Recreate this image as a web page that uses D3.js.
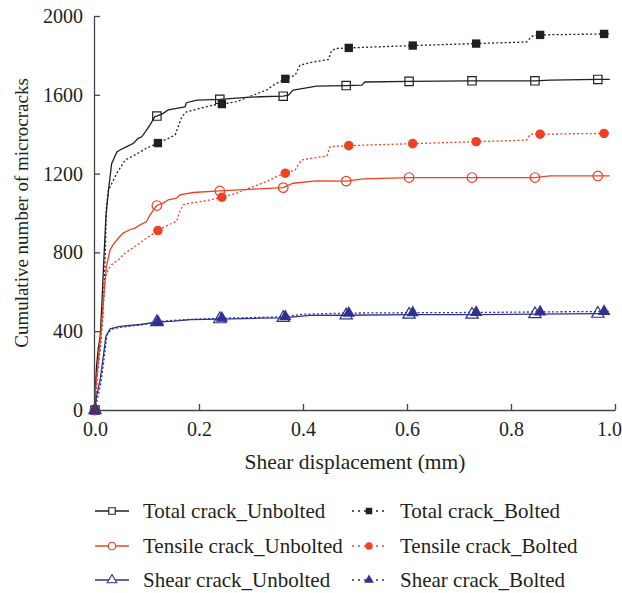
<!DOCTYPE html>
<html>
<head>
<meta charset="utf-8">
<script src="https://cdn.jsdelivr.net/npm/d3@7"></script>
<style>
  body { margin: 0; background: #fff; }
  text { font-family: "Liberation Serif", "DejaVu Serif", serif; fill: #231f20; }
</style>
</head>
<body>
<div id="chart"></div>
<script>
const width = 622;
const height = 593;

// curves: [shear displacement (mm), cumulative count]
const totalUnbolted = [
  [0, 0], [0.0, 71], [0.003, 223], [0.006, 307], [0.010, 375], [0.013, 527], [0.017, 763],
  [0.021, 982], [0.026, 1117], [0.032, 1250], [0.042, 1310], [0.048, 1320], [0.061, 1337],
  [0.074, 1354], [0.083, 1379], [0.090, 1387], [0.099, 1421], [0.106, 1447], [0.115, 1489],
  [0.119, 1492], [0.131, 1506], [0.141, 1523], [0.157, 1531], [0.173, 1539], [0.176, 1560],
  [0.196, 1573], [0.240, 1577], [0.292, 1587], [0.317, 1590], [0.362, 1593], [0.372, 1598],
  [0.381, 1624], [0.401, 1633], [0.426, 1644], [0.483, 1647], [0.513, 1649], [0.519, 1665],
  [0.604, 1668], [0.725, 1671], [0.846, 1671], [0.875, 1675], [0.967, 1678], [0.99, 1678]
];
const totalBolted = [
  [0, 0], [0.003, 172], [0.010, 307], [0.015, 476], [0.019, 729], [0.022, 1033],
  [0.026, 1117], [0.042, 1202], [0.058, 1269], [0.077, 1295], [0.099, 1329], [0.121, 1355],
  [0.141, 1379], [0.154, 1396], [0.160, 1438], [0.167, 1489], [0.176, 1514], [0.202, 1531],
  [0.228, 1548], [0.244, 1553], [0.272, 1565], [0.304, 1598], [0.330, 1624], [0.343, 1649],
  [0.366, 1681], [0.385, 1700], [0.394, 1750], [0.420, 1767], [0.449, 1779], [0.455, 1826],
  [0.465, 1835], [0.488, 1838], [0.611, 1850], [0.733, 1860], [0.830, 1868], [0.840, 1897],
  [0.856, 1904], [0.979, 1909], [0.99, 1909]
];
const tensileUnbolted = [
  [0, 0], [0.0, 71], [0.006, 240], [0.013, 443], [0.019, 645], [0.022, 729], [0.029, 813],
  [0.035, 839], [0.045, 873], [0.054, 898], [0.067, 915], [0.077, 923], [0.087, 940],
  [0.099, 957], [0.106, 991], [0.115, 1025], [0.119, 1038], [0.131, 1050], [0.141, 1067],
  [0.157, 1075], [0.163, 1092], [0.189, 1104], [0.240, 1112], [0.304, 1121], [0.362, 1129],
  [0.381, 1151], [0.426, 1163], [0.483, 1162], [0.516, 1173], [0.604, 1180], [0.725, 1180],
  [0.846, 1180], [0.875, 1188], [0.967, 1188], [0.99, 1188]
];
const tensileBolted = [
  [0, 0], [0.006, 223], [0.013, 425], [0.019, 645], [0.022, 696], [0.032, 738], [0.045, 763],
  [0.058, 797], [0.077, 830], [0.099, 873], [0.121, 911], [0.141, 940], [0.157, 957],
  [0.163, 1008], [0.170, 1042], [0.183, 1050], [0.215, 1063], [0.244, 1080], [0.272, 1100],
  [0.304, 1134], [0.330, 1160], [0.350, 1185], [0.366, 1202], [0.385, 1219], [0.397, 1269],
  [0.446, 1290], [0.452, 1337], [0.488, 1342], [0.611, 1352], [0.733, 1362], [0.830, 1370],
  [0.837, 1400], [0.856, 1400], [0.979, 1404], [0.99, 1404]
];
const shearUnbolted = [
  [0, 0], [0.003, 71], [0.010, 155], [0.016, 273], [0.021, 375], [0.029, 412], [0.048, 425],
  [0.087, 434], [0.119, 446], [0.151, 451], [0.183, 459], [0.240, 461], [0.317, 466],
  [0.362, 468], [0.413, 480], [0.483, 481], [0.604, 484], [0.725, 484], [0.846, 487],
  [0.967, 489], [0.99, 489]
];
const shearBolted = [
  [0, 0], [0.004, 50], [0.011, 130], [0.017, 250], [0.023, 380], [0.031, 410], [0.050, 420],
  [0.090, 432], [0.121, 448], [0.150, 455], [0.200, 462], [0.244, 466], [0.300, 469],
  [0.366, 474], [0.400, 486], [0.488, 492], [0.611, 494], [0.733, 495], [0.856, 498],
  [0.979, 500], [0.99, 500]
];

// marker positions along x
const markerXUnbolted = [0, 0.119, 0.240, 0.362, 0.483, 0.604, 0.725, 0.846, 0.967];
const markerXBolted = [0, 0.121, 0.244, 0.366, 0.488, 0.611, 0.733, 0.856, 0.979];

const xTicks = [0, 0.2, 0.4, 0.6, 0.8, 1.0];
const yTicks = [0, 400, 800, 1200, 1600, 2000];

const seriesNames = [
  "Total crack_Unbolted", "Total crack_Bolted",
  "Tensile crack_Unbolted", "Tensile crack_Bolted",
  "Shear crack_Unbolted", "Shear crack_Bolted"
];

const black = "#231f20", red = "#ef4123", blue = "#2e3192";

const series = [
  { name: seriesNames[0], data: totalUnbolted, mx: markerXUnbolted, color: black, dotted: false, shape: "square", filled: false },
  { name: seriesNames[1], data: totalBolted, mx: markerXBolted, color: black, dotted: true, shape: "square", filled: true },
  { name: seriesNames[2], data: tensileUnbolted, mx: markerXUnbolted, color: red, dotted: false, shape: "circle", filled: false },
  { name: seriesNames[3], data: tensileBolted, mx: markerXBolted, color: red, dotted: true, shape: "circle", filled: true },
  { name: seriesNames[4], data: shearUnbolted, mx: markerXUnbolted, color: blue, dotted: false, shape: "triangle", filled: false },
  { name: seriesNames[5], data: shearBolted, mx: markerXBolted, color: blue, dotted: true, shape: "triangle", filled: true }
];

const margin = { left: 94, right: 7, top: 16, bottom: 183 };

const x = d3.scaleLinear().domain([0, 1]).range([margin.left + 1, width - margin.right]);
const y = d3.scaleLinear().domain([0, 2000]).range([height - margin.bottom, margin.top]);

const svg = d3.select("#chart")
  .append("svg")
  .attr("width", width)
  .attr("height", height);

const line = d3.line()
  .x(d => x(d[0]))
  .y(d => y(d[1]));

const symbolFor = {
  square: d3.symbolSquare,
  circle: d3.symbolCircle,
  triangle: d3.symbolTriangle
};
const sizeFor = { square: 70, circle: 72, triangle: 66 };

// value of a series at given x, via linear lookup in its points
function valueAt(data, xv) {
  const i = d3.bisector(d => d[0]).left(data, xv);
  if (i <= 0) return data[0][1];
  if (i >= data.length) return data[data.length - 1][1];
  const a = data[i - 1], b = data[i];
  if (b[0] === a[0]) return b[1];
  return a[1] + (b[1] - a[1]) * (xv - a[0]) / (b[0] - a[0]);
}

// curves
series.forEach(s => {
  svg.append("path")
    .datum(s.data)
    .attr("fill", "none")
    .attr("stroke", s.color)
    .attr("stroke-width", 1.3)
    .attr("stroke-dasharray", s.dotted ? "2,2.2" : null)
    .attr("d", line);
});

// markers
series.forEach(s => {
  svg.selectAll(null)
    .data(s.mx)
    .enter()
    .append("path")
    .attr("transform", d => `translate(${x(d)},${y(valueAt(s.data, d))})`)
    .attr("d", d3.symbol().type(symbolFor[s.shape]).size(sizeFor[s.shape]))
    .attr("fill", s.filled ? s.color : "#fff")
    .attr("fill-opacity", s.filled ? 1 : 0)
    .attr("stroke", s.filled ? "none" : s.color)
    .attr("stroke-width", 1.2);
});

// axes
const xAxis = svg.append("g")
  .attr("transform", `translate(0,${y(0)})`)
  .call(d3.axisBottom(x).tickValues(xTicks).tickSizeInner(-6).tickSizeOuter(0).tickPadding(12)
    .tickFormat(d3.format(".1f")));
const yAxis = svg.append("g")
  .attr("transform", `translate(${margin.left},0)`)
  .call(d3.axisLeft(y).tickValues(yTicks).tickSizeInner(-6).tickSizeOuter(0).tickPadding(11)
    .tickFormat(d3.format("d")));

[xAxis, yAxis].forEach(g => {
  g.select(".domain").attr("stroke", "#444").attr("stroke-width", 1.3);
  g.selectAll(".tick line").attr("stroke", "#444").attr("stroke-width", 1.3);
  g.selectAll(".tick text")
    .attr("font-family", "Liberation Serif, serif")
    .attr("font-size", 20)
    .attr("fill", "#231f20");
});
// keep the last x label inside the page
xAxis.selectAll(".tick text").filter(d => d === 1).attr("dx", -6);

svg.append("text")
  .attr("x", 355)
  .attr("y", 469)
  .attr("text-anchor", "middle")
  .attr("font-size", 21.5)
  .text("Shear displacement (mm)");

svg.append("text")
  .attr("transform", `translate(28,${(y(0) + y(2000)) / 2}) rotate(-90)`)
  .attr("text-anchor", "middle")
  .attr("font-size", 19)
  .text("Cumulative number of microcracks");

// legend
const legendCols = [95, 352];
const legendRows = [511, 546, 580];
const legend = svg.append("g");
series.forEach((s, i) => {
  const lx = legendCols[i % 2];
  const ly = legendRows[Math.floor(i / 2)];
  const g = legend.append("g").attr("transform", `translate(${lx},${ly})`);
  g.append("line")
    .attr("x1", 0).attr("x2", 34)
    .attr("stroke", s.color)
    .attr("stroke-width", 1.3)
    .attr("stroke-dasharray", s.dotted ? "2,4" : null);
  g.append("path")
    .attr("transform", "translate(17,0)")
    .attr("d", d3.symbol().type(symbolFor[s.shape]).size(sizeFor[s.shape] * 0.6))
    .attr("fill", s.filled ? s.color : "#fff")
    .attr("stroke", s.filled ? "none" : s.color)
    .attr("stroke-width", 1.1);
  g.append("text")
    .attr("x", 48)
    .attr("dy", "0.33em")
    .attr("font-size", 21)
    .text(s.name);
});
</script>
</body>
</html>
